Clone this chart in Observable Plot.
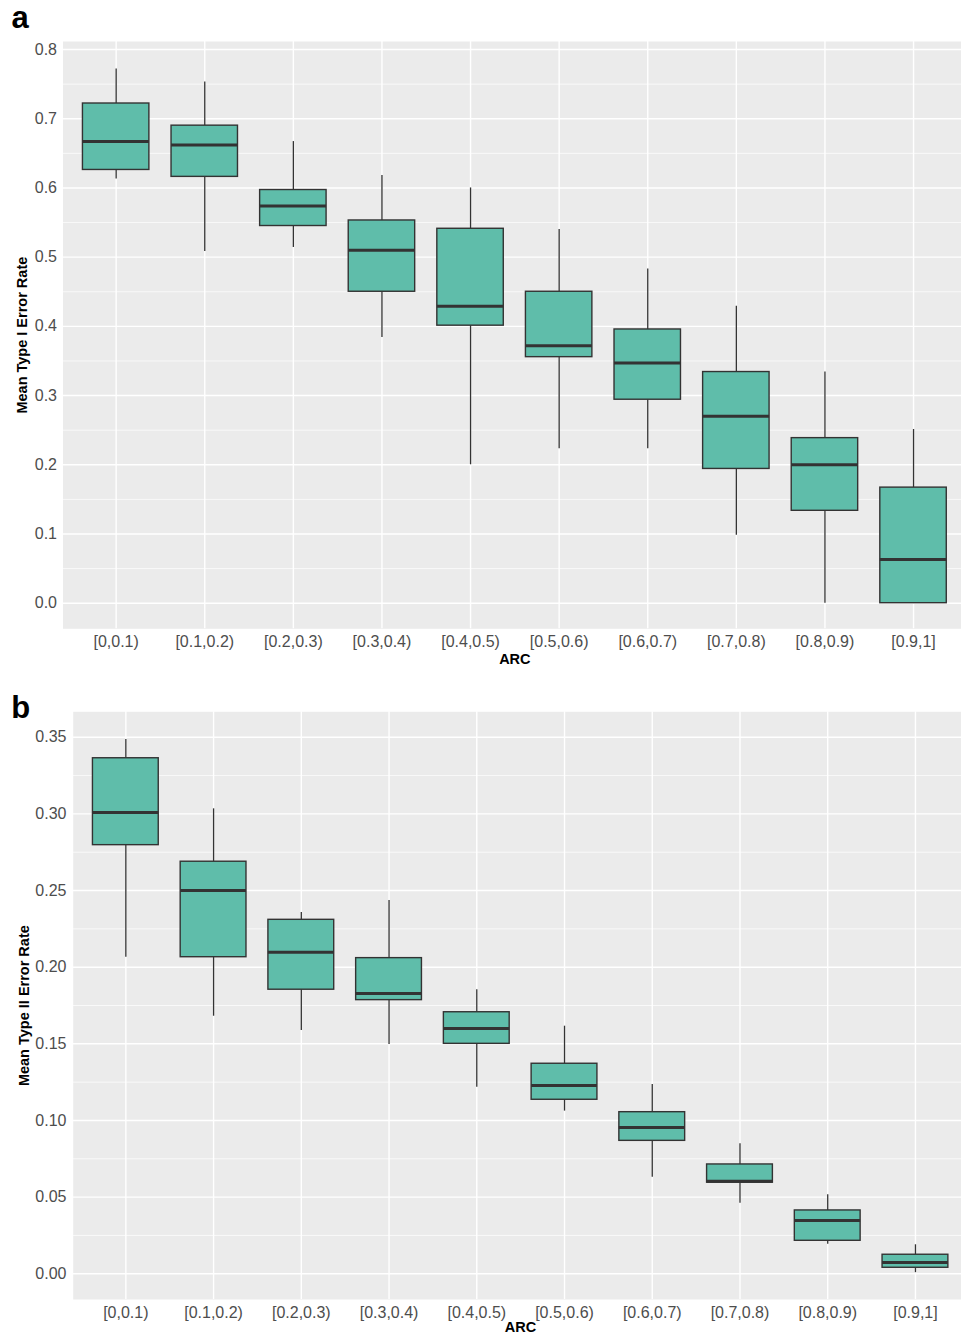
<!DOCTYPE html>
<html>
<head>
<meta charset="utf-8">
<script src="https://cdn.jsdelivr.net/npm/d3@7"></script>
<script src="https://cdn.jsdelivr.net/npm/@observablehq/plot@0.6"></script>
<style>
html, body { margin: 0; padding: 0; background: #fff; overflow: hidden; }
#wrap { position: relative; width: 961px; height: 1336px; font-family: "Liberation Sans", Arial, Helvetica, sans-serif; }
.letter { position: absolute; font-size: 31px; font-weight: bold; line-height: 1; color: #000; }
#wrap svg { display: block; overflow: hidden; }
</style>
</head>
<body>
<div id="wrap">
  <div id="pa"></div>
  <div id="pb"></div>
  <div class="letter" style="left:11.5px; top:1.8px;">a</div>
  <div class="letter" style="left:11.3px; top:692px;">b</div>
</div>
<script>
// Categories (ARC bins)
const categories = ["[0,0.1)", "[0.1,0.2)", "[0.2,0.3)", "[0.3,0.4)", "[0.4,0.5)",
                    "[0.5,0.6)", "[0.6,0.7)", "[0.7,0.8)", "[0.8,0.9)", "[0.9,1]"];

// Panel a: Mean Type I Error Rate (box statistics)
const typeI_lower  = [0.613, 0.508, 0.514, 0.384, 0.200, 0.223, 0.223, 0.098, 0.000, 0.000];
const typeI_q1     = [0.626, 0.616, 0.545, 0.450, 0.401, 0.3555, 0.294, 0.194, 0.1335, 0.000];
const typeI_median = [0.667, 0.662, 0.574, 0.510, 0.429, 0.372, 0.347, 0.270, 0.200, 0.063];
const typeI_q3     = [0.722, 0.690, 0.597, 0.553, 0.541, 0.450, 0.3955, 0.334, 0.2385, 0.167];
const typeI_upper  = [0.772, 0.753, 0.667, 0.618, 0.600, 0.540, 0.483, 0.429, 0.334, 0.251];

// Panel b: Mean Type II Error Rate
const typeII_lower  = [0.2065, 0.168, 0.1587, 0.1496, 0.1217, 0.1061, 0.063, 0.046, 0.0193, 0.0007];
const typeII_q1     = [0.2796, 0.2065, 0.1853, 0.1785, 0.150, 0.1135, 0.0867, 0.0594, 0.0215, 0.0039];
const typeII_median = [0.3009, 0.250, 0.2098, 0.1828, 0.160, 0.1228, 0.0954, 0.0604, 0.0348, 0.0074];
const typeII_q3     = [0.3363, 0.2688, 0.2309, 0.2059, 0.1706, 0.137, 0.1054, 0.0713, 0.0413, 0.0124];
const typeII_upper  = [0.3485, 0.3033, 0.2357, 0.2435, 0.1853, 0.1615, 0.1235, 0.0848, 0.0515, 0.0189];

// Tick values
const typeI_majorTicks  = [0, 0.1, 0.2, 0.3, 0.4, 0.5, 0.6, 0.7, 0.8];
const typeI_minorTicks  = [0.05, 0.15, 0.25, 0.35, 0.45, 0.55, 0.65, 0.75];
const typeII_majorTicks = [0, 0.05, 0.10, 0.15, 0.20, 0.25, 0.30, 0.35];
const typeII_minorTicks = [0.025, 0.075, 0.125, 0.175, 0.225, 0.275, 0.325];

const FONT = '"Liberation Sans", Arial, Helvetica, sans-serif';
const BOX_FILL = "#5FBDAA";
const LINE = "#333333";

function makePanel(o) {
  const rows = categories.map((c, i) => ({
    cat: c, lower: o.lower[i], q1: o.q1[i], median: o.median[i], q3: o.q3[i], upper: o.upper[i]
  }));
  return Plot.plot({
    width: 961,
    height: o.height,
    marginTop: o.mt,
    marginBottom: o.mb,
    marginLeft: o.ml,
    marginRight: 0,
    style: { fontFamily: FONT, fontSize: "16px", background: "white", color: "#4D4D4D", overflow: "hidden" },
    x: {
      type: "band", domain: categories, range: [o.ml, o.xRight],
      paddingInner: 0.25, paddingOuter: 0.225, round: false,
      tickSize: 0, tickPadding: o.xPad, label: null
    },
    y: {
      domain: o.domain, ticks: o.majors, tickFormat: d3.format(o.fmt),
      tickSize: 0, tickPadding: o.yPad, label: null
    },
    marks: [
      Plot.frame({ fill: "#EBEBEB", stroke: "none" }),
      Plot.ruleY(o.minors, { stroke: "white", strokeWidth: 0.7 }),
      Plot.ruleY(o.majors, { stroke: "white", strokeWidth: 1.4 }),
      Plot.ruleX(categories, { stroke: "white", strokeWidth: 1.4 }),
      Plot.ruleX(rows, { x: "cat", y1: "q3", y2: "upper", stroke: LINE, strokeWidth: 1.3 }),
      Plot.ruleX(rows, { x: "cat", y1: "lower", y2: "q1", stroke: LINE, strokeWidth: 1.3 }),
      Plot.barY(rows, { x: "cat", y1: "q1", y2: "q3", fill: BOX_FILL, stroke: LINE, strokeWidth: 1.4 }),
      Plot.tickY(rows, { x: "cat", y: "median", stroke: LINE, strokeWidth: 3 }),
      Plot.text([o.ylabel], {
        frameAnchor: "left", dx: o.titleDx, rotate: -90, fontSize: 14.5, fontWeight: "bold",
        fill: "black", textAnchor: "middle", lineAnchor: "middle"
      }),
      Plot.text(["ARC"], {
        frameAnchor: "bottom", dx: o.arcDx, dy: o.arcDy, fontSize: 14.5, fontWeight: "bold",
        fill: "black", textAnchor: "middle", lineAnchor: "middle"
      })
    ]
  });
}

document.getElementById("pa").appendChild(makePanel({
  lower: typeI_lower, q1: typeI_q1, median: typeI_median, q3: typeI_q3, upper: typeI_upper,
  majors: typeI_majorTicks, minors: typeI_minorTicks, fmt: ".1f",
  domain: [-0.037, 0.8116], ylabel: "Mean Type I Error Rate",
  height: 672, mt: 41, mb: 43.7, ml: 62.5, xRight: 966.2,
  yPad: 6, xPad: 7.3, titleDx: -40.3, arcDx: 2.6, arcDy: 30.8
}));

document.getElementById("pb").appendChild(makePanel({
  lower: typeII_lower, q1: typeII_q1, median: typeII_median, q3: typeII_q3, upper: typeII_upper,
  majors: typeII_majorTicks, minors: typeII_minorTicks, fmt: ".2f",
  domain: [-0.0168, 0.3666], ylabel: "Mean Type II Error Rate",
  height: 664, mt: 39.3, mb: 37, ml: 72.7, xRight: 967.6,
  yPad: 6.7, xPad: 7, titleDx: -49, arcDx: 3.2, arcDy: 28.2
}));
</script>
</body>
</html>
